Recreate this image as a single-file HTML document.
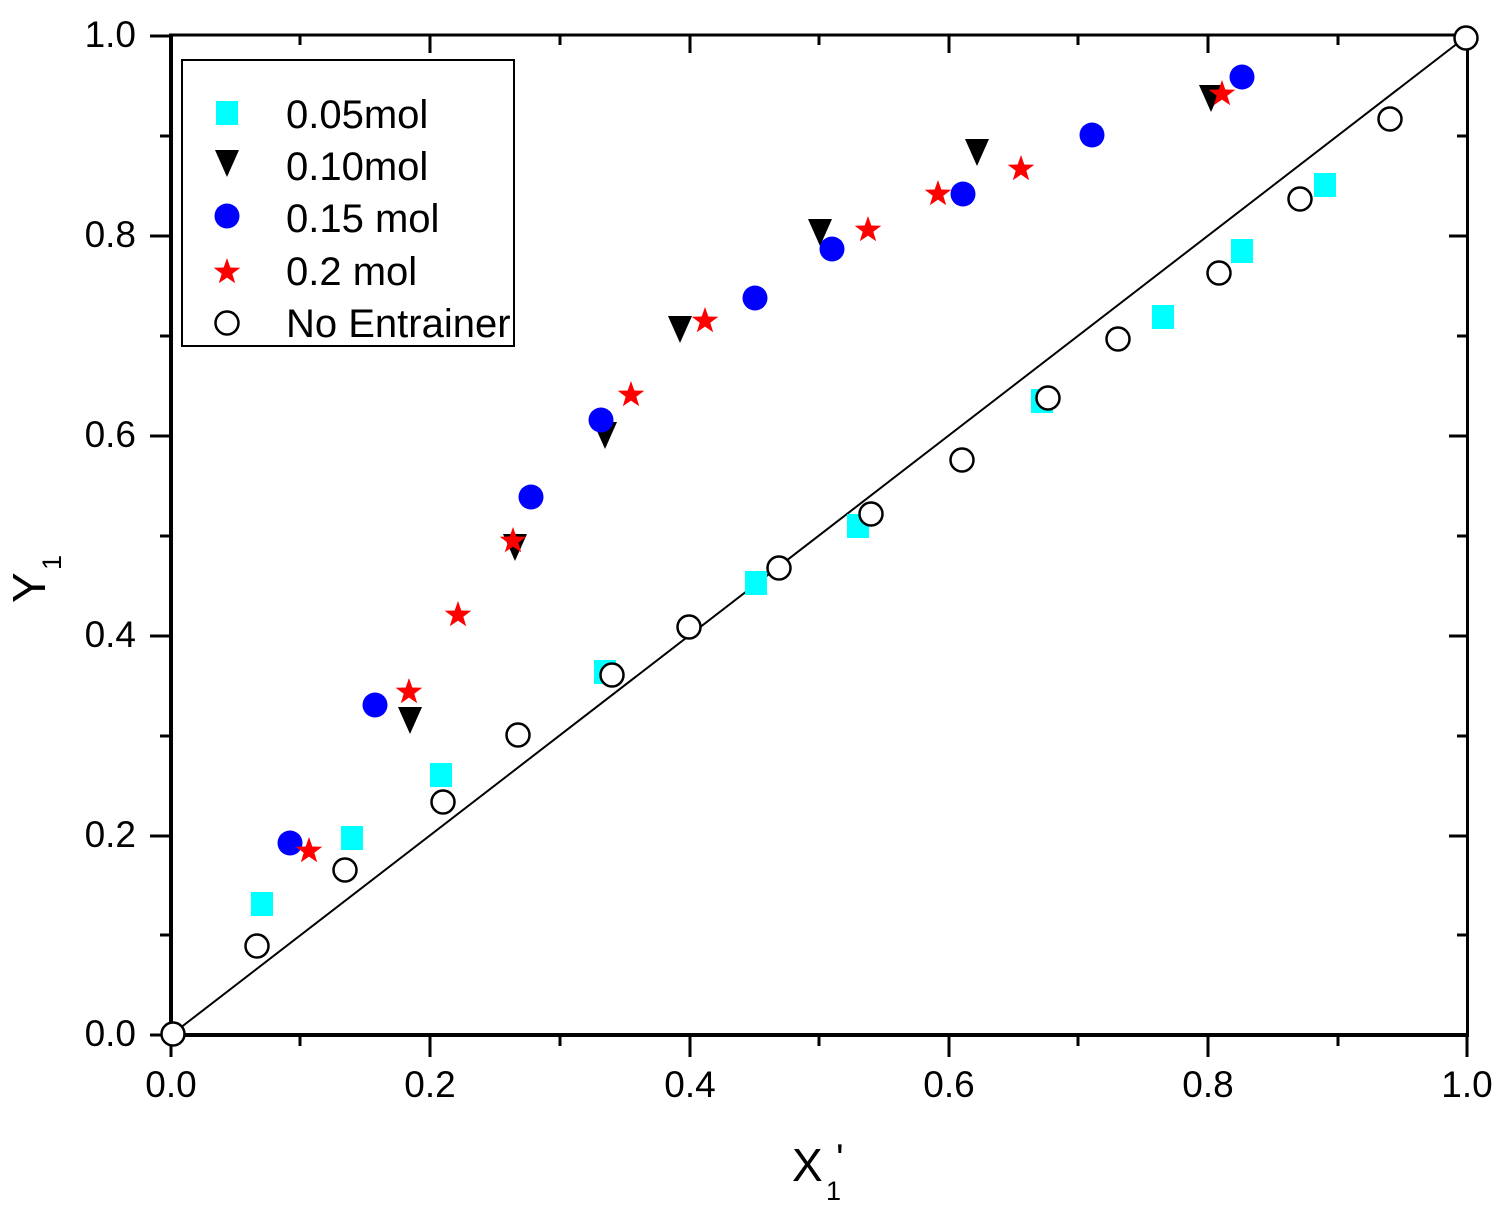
<!DOCTYPE html>
<html><head><meta charset="utf-8"><style>
html,body{margin:0;padding:0;background:#fff;}
svg{display:block;font-family:"Liberation Sans",Arial,sans-serif;}
</style></head><body>
<svg width="1506" height="1211" viewBox="0 0 1506 1211" xmlns="http://www.w3.org/2000/svg">
<defs>
<rect id="sq" x="-11" y="-12" width="22" height="24" fill="#00ffff"/>
<polygon id="tri" points="-12,-11 12,-11 0,16" fill="#000"/>
<circle id="bc" r="12.5" fill="#0000ff"/>
<polygon id="st" fill="#ff0000" points="0,-14 3.3,-4.5 13.3,-4.3 5.3,1.7 8.2,11.3 0,5.6 -8.2,11.3 -5.3,1.7 -13.3,-4.3 -3.3,-4.5"/>
<circle id="oc" r="11.5" fill="#fff" stroke="#000" stroke-width="2.5"/>
</defs>
<line x1="171" y1="1035" x2="1467" y2="36" stroke="#000" stroke-width="2"/>
<g stroke="#000" fill="none">
<line x1="171" y1="34" x2="171" y2="1037" stroke-width="4"/>
<line x1="169" y1="1035" x2="1469" y2="1035" stroke-width="4"/>
<line x1="169" y1="35" x2="1469" y2="35" stroke-width="3"/>
<line x1="1467.5" y1="34" x2="1467.5" y2="1037" stroke-width="3"/>
</g>
<g stroke="#000" stroke-width="3">
<line x1="171" y1="1035" x2="171" y2="1057"/><line x1="430" y1="1035" x2="430" y2="1057"/><line x1="690" y1="1035" x2="690" y2="1057"/><line x1="949" y1="1035" x2="949" y2="1057"/><line x1="1208" y1="1035" x2="1208" y2="1057"/><line x1="1467" y1="1035" x2="1467" y2="1057"/>
<line x1="300" y1="1035" x2="300" y2="1046"/><line x1="560" y1="1035" x2="560" y2="1046"/><line x1="819" y1="1035" x2="819" y2="1046"/><line x1="1078" y1="1035" x2="1078" y2="1046"/><line x1="1338" y1="1035" x2="1338" y2="1046"/>
<line x1="430" y1="35" x2="430" y2="53"/><line x1="690" y1="35" x2="690" y2="53"/><line x1="949" y1="35" x2="949" y2="53"/><line x1="1208" y1="35" x2="1208" y2="53"/>
<line x1="300" y1="35" x2="300" y2="45"/><line x1="560" y1="35" x2="560" y2="45"/><line x1="819" y1="35" x2="819" y2="45"/><line x1="1078" y1="35" x2="1078" y2="45"/><line x1="1338" y1="35" x2="1338" y2="45"/>
<line x1="150" y1="1035" x2="171" y2="1035"/><line x1="150" y1="836" x2="171" y2="836"/><line x1="150" y1="636" x2="171" y2="636"/><line x1="150" y1="436" x2="171" y2="436"/><line x1="150" y1="236" x2="171" y2="236"/><line x1="150" y1="36" x2="171" y2="36"/>
<line x1="160" y1="935" x2="171" y2="935"/><line x1="160" y1="736" x2="171" y2="736"/><line x1="160" y1="536" x2="171" y2="536"/><line x1="160" y1="336" x2="171" y2="336"/><line x1="160" y1="136" x2="171" y2="136"/>
<line x1="1449" y1="836" x2="1467" y2="836"/><line x1="1449" y1="636" x2="1467" y2="636"/><line x1="1449" y1="436" x2="1467" y2="436"/><line x1="1449" y1="236" x2="1467" y2="236"/>
<line x1="1457" y1="935" x2="1467" y2="935"/><line x1="1457" y1="736" x2="1467" y2="736"/><line x1="1457" y1="536" x2="1467" y2="536"/><line x1="1457" y1="336" x2="1467" y2="336"/><line x1="1457" y1="136" x2="1467" y2="136"/>
</g>
<g font-size="37" fill="#000" text-anchor="end">
<text x="136" y="1046">0.0</text><text x="136" y="847">0.2</text><text x="136" y="647">0.4</text><text x="136" y="447">0.6</text><text x="136" y="247">0.8</text><text x="136" y="47">1.0</text>
</g>
<g font-size="37" fill="#000" text-anchor="middle">
<text x="171" y="1097">0.0</text><text x="430" y="1097">0.2</text><text x="690" y="1097">0.4</text><text x="949" y="1097">0.6</text><text x="1208" y="1097">0.8</text><text x="1467" y="1097">1.0</text>
</g>
<text x="792" y="1181" font-size="46" fill="#000">X</text>
<text x="826" y="1200" font-size="27" fill="#000">1</text>
<text x="836" y="1172" font-size="40" fill="#000">'</text>
<g transform="translate(45,603) rotate(-90)">
<text x="0" y="0" font-size="46" fill="#000">Y</text>
<text x="33" y="16" font-size="27" fill="#000">1</text>
</g>
<g>
<use href="#sq" x="262" y="904"/><use href="#sq" x="352" y="838"/><use href="#sq" x="441" y="775"/><use href="#sq" x="605" y="672"/><use href="#sq" x="756" y="583"/><use href="#sq" x="858" y="526"/><use href="#sq" x="1042" y="401"/><use href="#sq" x="1163" y="317"/><use href="#sq" x="1242" y="251"/><use href="#sq" x="1325" y="185"/>
<use href="#tri" x="410" y="718"/><use href="#tri" x="515" y="545"/><use href="#tri" x="605" y="433"/><use href="#tri" x="680" y="327"/><use href="#tri" x="820" y="230"/><use href="#tri" x="977" y="150"/><use href="#tri" x="1211" y="96"/>
<use href="#bc" x="290" y="843"/><use href="#bc" x="375" y="705"/><use href="#bc" x="531" y="497"/><use href="#bc" x="601" y="420"/><use href="#bc" x="755" y="298"/><use href="#bc" x="832" y="249"/><use href="#bc" x="963" y="194"/><use href="#bc" x="1092" y="135"/><use href="#bc" x="1242" y="77"/>
<use href="#st" x="309" y="851"/><use href="#st" x="409" y="692"/><use href="#st" x="458" y="615"/><use href="#st" x="513" y="541"/><use href="#st" x="631" y="395"/><use href="#st" x="705" y="321"/><use href="#st" x="868" y="230"/><use href="#st" x="938" y="194"/><use href="#st" x="1021" y="169"/><use href="#st" x="1222" y="94"/>
<use href="#oc" x="173" y="1034"/><use href="#oc" x="257" y="946"/><use href="#oc" x="345" y="870"/><use href="#oc" x="443" y="802"/><use href="#oc" x="518" y="735"/><use href="#oc" x="612" y="675"/><use href="#oc" x="689" y="627"/><use href="#oc" x="779" y="568"/><use href="#oc" x="871" y="514"/><use href="#oc" x="962" y="460"/><use href="#oc" x="1048" y="398"/><use href="#oc" x="1118" y="339"/><use href="#oc" x="1219" y="273"/><use href="#oc" x="1300" y="199"/><use href="#oc" x="1390" y="119"/><use href="#oc" x="1466" y="38"/>
</g>
<rect x="182" y="60" width="332" height="286" fill="#fff" stroke="#000" stroke-width="2"/>
<use href="#sq" x="227" y="113"/>
<use href="#tri" x="227" y="161"/>
<use href="#bc" x="227" y="216"/>
<use href="#st" x="227" y="272"/>
<use href="#oc" x="227" y="323"/>
<svg x="182" y="60" width="331" height="286" overflow="hidden">
<g font-size="40" fill="#000">
<text x="104" y="68">0.05mol</text>
<text x="104" y="120">0.10mol</text>
<text x="104" y="172">0.15 mol</text>
<text x="104" y="225">0.2 mol</text>
<text x="104" y="277">No Entrainer</text>
</g>
</svg>
</svg>
</body></html>
